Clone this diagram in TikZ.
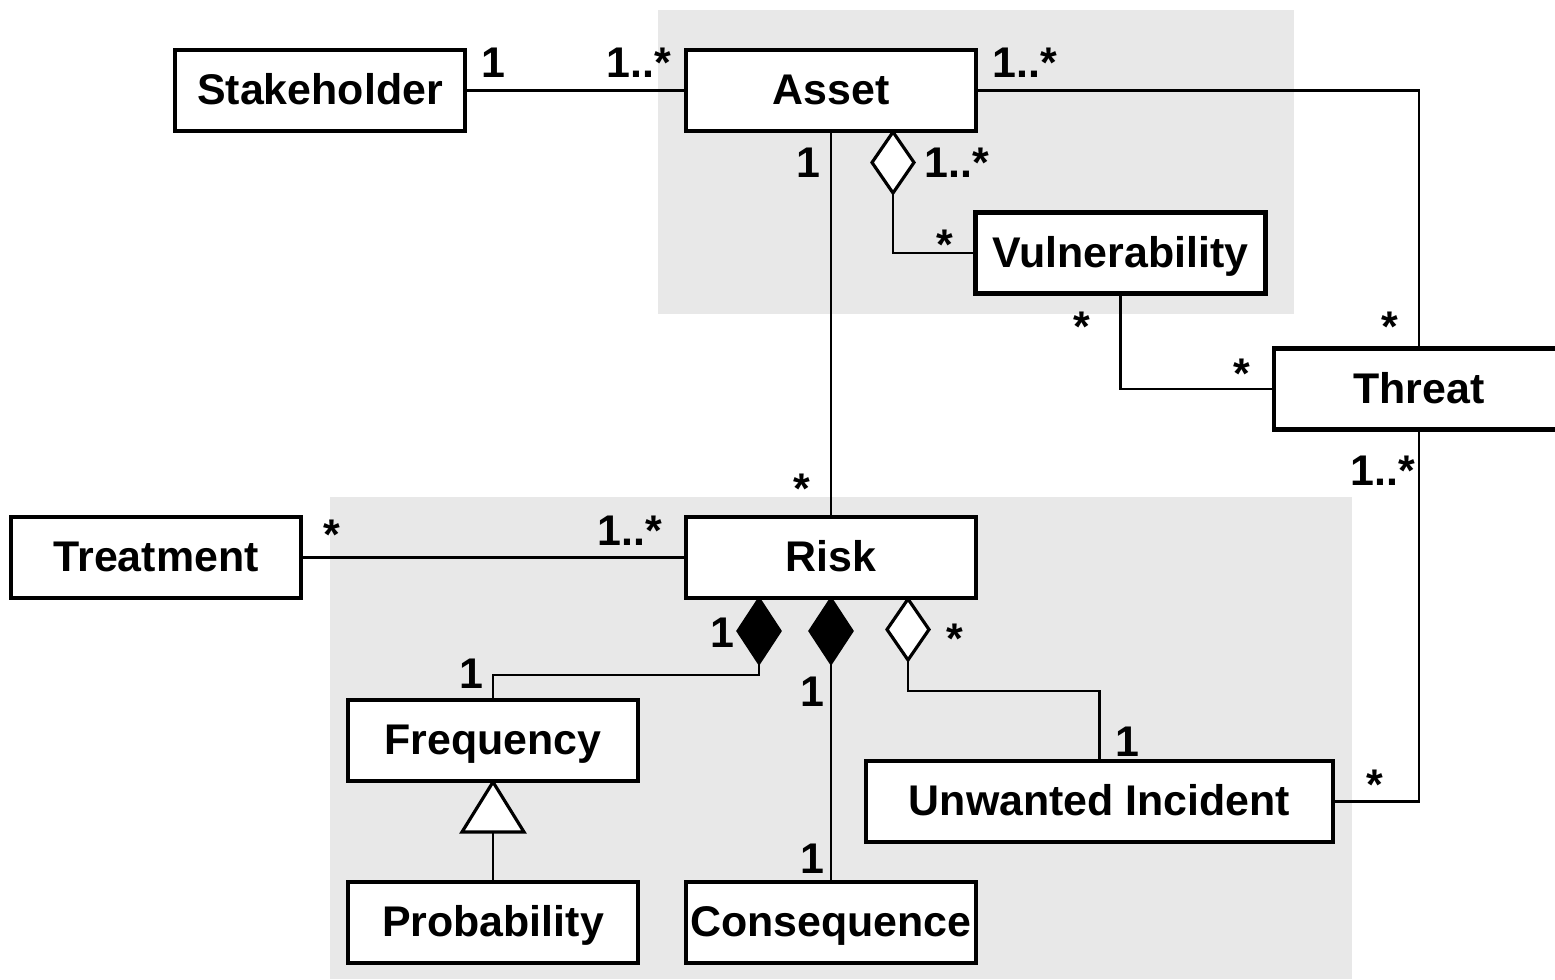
\documentclass[tikz,border=0pt]{standalone}
\usepackage{fontspec}
\setmainfont{Liberation Sans}
\definecolor{regiongray}{HTML}{E8E8E8}
\tikzset{
  classbox/.style={draw=black, fill=white, line width=1.2pt, minimum width=2.9cm, minimum height=0.81cm, inner sep=0pt, text height=0.3cm, text depth=0.02cm, font=\fontsize{12.2}{14}\selectfont\bfseries},
  conn/.style={draw=black, line width=0.6pt},
  mult/.style={inner sep=0pt, font=\fontsize{12.2}{14}\selectfont\bfseries},
  region/.style={fill=regiongray, draw=none},
  hollowdiamond/.style={draw=black, fill=white, line width=0.9pt},
  solidtip/.style={draw=black, fill=black, line width=0.9pt},
}
\begin{document}
\begin{tikzpicture}[x=0.01cm,y=-0.01cm]
\clip (0,0) rectangle (1555,979);
\fill[white] (0,0) rectangle (1555,979);
% regions
\path[region] (658,10) rectangle (1294,314);
\path[region] (330,497) rectangle (1352,979);
% boxes
\node[classbox] (stake) at (320,90.5) {Stakeholder};
\node[classbox] (asset) at (831,90.5) {Asset};
\node[classbox] (vuln) at (1120.5,253) {Vulnerability};
\node[classbox] (threat) at (1419,389) {Threat};
\node[classbox] (treat) at (156,557.5) {Treatment};
\node[classbox] (risk) at (831,557.5) {Risk};
\node[classbox] (freq) at (493,740.5) {Frequency};
\node[classbox] (prob) at (493,922.5) {Probability};
\node[classbox] (cons) at (831,922.5) {Consequence};
\node[classbox, minimum width=4.67cm] (unw) at (1099.5,801.5) {Unwanted Incident};
% coordinates for diamonds and triangle
\coordinate (dA) at (893,193);
\coordinate (dR1) at (759,663);
\coordinate (dR2) at (831,663);
\coordinate (dR3) at (908,660);
\coordinate (tri) at (493,832);
% connectors
\draw[conn] (stake.east) -- (asset.west);
\draw[conn] (asset.east) -| (threat.north);
\draw[conn] (asset.south) -- (risk.north);
\draw[conn] (dA) |- (vuln.west);
\draw[conn] (vuln.south) |- (threat.west);
\draw[conn] (threat.south) |- (unw.east);
\draw[conn] (treat.east) -- (risk.west);
\draw[conn] (dR1) -- (759,675) -| (freq.north);
\draw[conn] (dR2) -- (cons.north);
\draw[conn] (dR3) -- (908,691) -| (unw.north);
\draw[conn] (tri) -- (prob.north);
% diamonds
\path[hollowdiamond] (893,132) -- (914,162.5) -- (dA) -- (872,162.5) -- cycle;
\path[solidtip] (759,599) -- (780,631) -- (dR1) -- (738,631) -- cycle;
\path[solidtip] (831,599) -- (852,631) -- (dR2) -- (810,631) -- cycle;
\path[hollowdiamond] (908,599) -- (929,629.5) -- (dR3) -- (887,629.5) -- cycle;
% triangle
\path[hollowdiamond] (493,782) -- (524,832) -- (462,832) -- cycle;
% multiplicities
\node[mult, anchor=base west] at (481,78) {1};
\node[mult, anchor=base west] at (606,78) {1..*};
\node[mult, anchor=base west] at (992,78) {1..*};
\node[mult, anchor=base west] at (796,178) {1};
\node[mult, anchor=base west] at (924,178) {1..*};
\node[mult, anchor=base] at (945,259) {*};
\node[mult, anchor=base] at (1082,341) {*};
\node[mult, anchor=base] at (1390,341) {*};
\node[mult, anchor=base] at (1242,388) {*};
\node[mult, anchor=base west] at (1350,485) {1..*};
\node[mult, anchor=base] at (1375,799) {*};
\node[mult, anchor=base] at (1127,756) {1};
\node[mult, anchor=base] at (802,503) {*};
\node[mult, anchor=base] at (332,549) {*};
\node[mult, anchor=base west] at (597,545) {1..*};
\node[mult, anchor=base] at (722,647) {1};
\node[mult, anchor=base] at (955,653) {*};
\node[mult, anchor=base] at (471,688) {1};
\node[mult, anchor=base] at (812,706) {1};
\node[mult, anchor=base] at (812,873) {1};
\end{tikzpicture}
\end{document}
